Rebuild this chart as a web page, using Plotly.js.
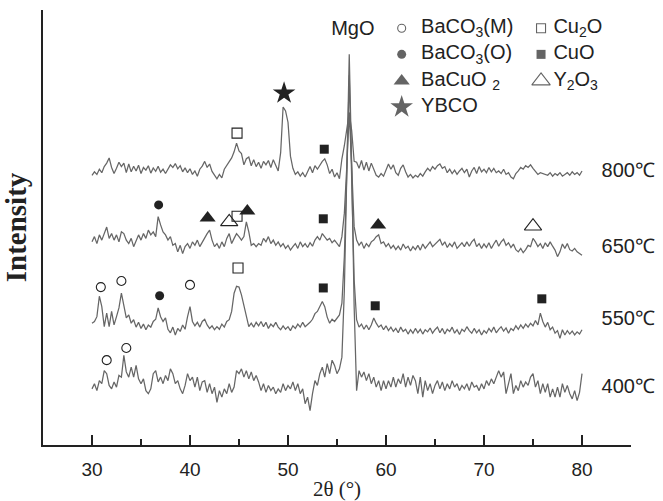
<!DOCTYPE html>
<html><head><meta charset="utf-8">
<script src="https://cdn.plot.ly/plotly-3.0.1.min.js"></script>
<style>html,body{margin:0;padding:0;background:#fff}#chart{width:663px;height:501px}</style>
</head><body><div id="chart"></div>
<script>
// ---- scan definition (2θ from 30° to 80°, 0.25° step) ----
const twoThetaStart = 30;
const twoThetaStep = 0.25;

// ---- sample labels and vertical stacking offsets ----
const samples = ['800℃', '650℃', '550℃', '400℃'];
const offsets = [63.2, 47.1, 28.0, 13.3];

// ---- intensities (arbitrary units), one value per 0.25° ----
const i800 = [
 -1.2,-0.4,-1.0,0.2,-0.6,0.8,1.6,2.8,0.6,-0.8,0.4,1.8,0.8,1.6,-0.6,1.4,-0.4,0.9,-0.2,1.1,
 -0.8,0.6,0.0,1.0,-0.7,0.5,-0.3,0.9,-0.5,0.2,-0.8,0.4,1.2,0.6,1.5,0.3,1.0,-0.4,0.5,-0.6,
 0.3,-1.0,-0.2,-1.4,0.2,0.9,2.0,0.6,1.4,-0.3,-1.2,-2.0,-1.0,-1.8,0.2,1.0,1.8,2.8,4.2,6.2,
 4.4,3.8,1.2,2.6,3.0,1.0,2.4,0.8,1.8,0.4,2.0,1.2,2.2,0.6,2.4,1.0,-0.2,4.0,14.5,13.6,
 11.0,3.2,0.4,-1.0,-0.4,-1.4,-0.6,-1.6,-0.2,0.8,-0.6,1.0,0.2,1.2,2.0,2.6,1.2,-0.8,0.2,-1.6,
 -0.6,-2.0,2.6,5.6,9.0,13.2,9.0,2.0,1.8,0.4,2.2,0.0,1.8,-0.2,1.6,0.2,-1.2,-1.6,-0.8,-1.4,
 0.2,1.4,0.2,1.2,-0.6,-1.2,0.4,1.2,-0.4,-1.6,-1.0,-1.8,-1.2,-1.6,-0.8,-1.4,-0.4,0.4,-0.2,0.8,
 0.2,1.0,1.4,0.4,0.8,-0.6,0.2,-0.8,0.0,-1.0,-0.2,0.4,-0.6,0.2,-1.6,-0.2,0.6,-0.8,0.8,-0.4,
 0.2,-0.6,0.6,-0.4,0.4,-0.6,-0.2,-0.8,0.2,-1.0,-0.6,-1.6,-2.0,-0.8,-0.2,0.6,0.2,1.0,0.6,1.2,
 0.4,-0.4,-1.0,-0.6,-0.8,-1.0,-1.2,-0.6,-1.4,-0.8,-1.2,-0.6,-1.4,-1.0,-0.6,-1.2,-0.4,-1.0,-0.6,-1.2,
 -0.2
];
const i650 = [
 -0.4,0.8,-0.8,1.2,0.0,1.5,3.0,0.4,1.5,0.0,1.2,-0.4,1.9,1.5,0.0,-0.8,0.4,-1.5,0.0,1.2,
 0.0,1.5,0.4,2.3,1.2,1.9,0.8,5.4,3.5,1.9,1.2,0.0,0.8,-1.2,-0.8,-2.7,-1.2,-3.1,-1.5,-0.8,
 -1.9,-0.4,-1.2,0.0,-1.5,-0.4,0.4,1.5,2.3,0.0,-1.5,-0.8,-1.9,-0.4,-1.5,0.4,1.5,-0.8,0.4,1.5,
 0.8,0.0,0.8,4.2,1.9,-1.2,-0.8,-1.5,-0.8,-1.2,0.4,-0.4,0.8,-0.8,0.0,-1.2,-0.4,-1.5,-0.8,-1.9,
 -1.2,-2.3,-1.5,-0.8,-1.9,-0.4,-1.5,-0.8,-1.7,-0.6,-1.4,0.0,0.8,0.0,1.5,0.8,0.0,0.4,-0.6,0.0,
 -0.9,-1.5,0.8,6.2,17.0,29.3,17.0,3.1,0.0,-1.2,-0.4,-1.9,-0.8,-1.5,-0.4,0.0,0.8,1.2,-0.8,-0.4,
 -1.5,-0.8,-1.9,-1.2,-2.2,-1.4,-2.3,-0.9,-1.9,-1.4,-2.5,-1.5,-2.2,-1.2,-2.3,-0.9,-1.9,-1.2,-0.4,-1.5,
 -0.9,-0.4,0.2,-1.2,-0.4,-1.7,-0.8,-1.5,-0.4,-1.9,-1.2,-0.6,-1.5,-0.4,-1.4,-0.4,0.2,-1.5,-0.8,-1.9,
 -0.9,-1.7,-0.6,-1.9,-0.9,0.0,-1.4,-0.4,0.2,-1.2,-0.6,-1.7,-0.9,-2.2,-2.7,-1.9,-2.9,-2.2,-1.2,-1.5,
 0.4,-0.4,-1.5,-0.8,-1.9,-0.6,-1.5,-0.4,-1.4,-2.3,-3.8,-2.7,-0.9,-1.9,-0.8,-2.2,-2.5,-1.9,-2.7,-3.1,
 -3.5
];
const i550 = [
 0.0,0.4,1.5,6.2,3.8,-0.8,2.3,-0.8,2.7,-0.4,1.5,3.5,6.9,3.8,1.2,1.9,0.0,0.8,-0.9,0.2,
 -1.2,-0.2,-1.5,-0.4,-0.9,0.4,0.9,3.5,1.5,0.4,1.2,-1.4,-2.2,-0.9,-2.7,-1.2,-1.9,-0.4,-1.4,1.5,
 3.8,0.4,-0.6,0.2,-0.9,0.4,0.9,-0.4,-1.2,-0.6,-1.5,-0.8,-1.4,-0.2,-0.9,0.4,0.8,2.7,6.9,8.5,
 8.3,6.5,3.8,1.2,-0.8,0.0,-0.9,0.2,-0.6,0.4,-0.8,0.2,-1.2,-0.2,-0.8,0.2,-0.9,-1.5,-0.6,-1.4,
 -0.8,-1.7,-0.6,-1.2,-0.2,-0.9,0.2,-0.8,-0.4,0.2,0.9,2.2,2.7,3.8,5.0,3.8,1.4,0.0,0.9,0.4,
 1.2,1.9,4.6,15.4,34.6,57.0,33.0,10.0,0.8,-0.9,-0.2,-1.4,-0.4,-1.5,-0.4,1.2,0.0,-0.9,-0.4,-1.5,
 -0.6,-1.7,-0.9,-1.9,-1.2,-2.2,-0.9,-1.9,-1.4,-2.5,-1.5,-2.3,-1.2,-2.2,-1.4,-2.5,-1.5,-2.0,-1.1,-2.3,
 -1.5,-0.9,-2.2,-1.2,-2.5,-1.4,-1.9,-0.9,-2.3,-1.5,-2.6,-1.4,-1.9,-0.8,-1.7,-2.3,-1.2,-2.2,-1.5,-2.7,
 -1.7,-2.3,-1.2,-2.0,-0.9,-2.2,-1.4,-0.8,-1.8,-1.1,-2.3,-1.2,-1.7,-0.6,-1.4,-0.4,-1.2,-0.2,-0.9,0.0,
 -0.6,0.6,-0.4,2.3,0.4,-0.9,0.2,-1.5,-0.9,-2.3,-1.7,-3.5,-1.5,-2.7,-1.7,-2.5,-1.8,-2.7,-2.0,-2.5,
 -1.5
];
const i400 = [
 -0.4,0.8,-0.8,1.5,0.8,3.8,3.1,0.4,-0.4,1.2,0.0,2.7,2.3,7.3,3.5,2.3,4.6,2.3,5.0,1.9,
 0.8,1.9,-0.8,-1.5,-0.4,3.1,3.8,1.2,2.3,0.8,2.7,1.5,4.2,3.1,0.8,1.5,-0.4,-1.5,0.4,3.1,
 1.5,2.3,0.0,2.3,-0.8,1.2,1.5,-1.2,0.8,-1.5,0.0,-3.5,-0.8,-2.3,-0.4,-1.5,0.8,-1.2,0.0,3.8,
 3.1,4.2,2.3,3.8,1.9,3.5,1.5,2.7,1.2,-0.8,0.8,-1.2,0.4,-0.8,0.0,-1.5,-0.4,-1.2,0.8,-0.8,
 0.4,-0.4,1.2,-0.8,0.8,-1.5,-0.4,-3.8,-2.3,-5.4,-1.5,1.5,0.4,3.1,4.6,2.3,5.4,3.1,6.2,5.0,
 3.1,4.2,6.9,22.3,49.2,76.5,50.8,18.5,-0.8,3.8,2.3,3.5,1.5,3.1,0.8,2.3,0.0,1.5,-0.8,1.5,
 -0.4,1.5,0.0,2.3,0.0,1.9,0.8,3.1,0.0,2.3,0.4,2.7,1.5,-1.5,2.3,-2.3,1.5,-0.8,0.8,-1.5,
 0.4,1.5,-0.4,1.2,-0.8,0.8,-0.4,1.5,0.0,0.8,-0.8,0.4,-0.4,0.8,-0.8,1.2,0.0,0.4,-0.8,0.8,
 -0.4,1.5,0.4,1.9,0.8,2.3,3.8,2.3,3.5,-1.5,0.8,3.1,-1.5,0.4,-0.8,1.5,0.0,1.2,0.4,2.3,
 3.1,0.0,1.5,-1.5,0.8,-1.2,0.8,-2.3,-0.4,-2.3,0.0,-2.3,0.8,-1.2,0.4,-1.5,-2.7,-0.8,-3.1,-1.2,
 3.1
];

// ---- phase identification marks (2θ position, plotted height) ----
const bacoM_x = [30.9, 33.0, 40.0, 31.5, 33.5];
const bacoM_y = [36.3, 37.7, 36.8, 19.5, 22.3];
const bacoO_x = [36.8, 36.9];
const bacoO_y = [55.2, 34.3];
const bacuo2_x = [41.8, 45.85, 59.2];
const bacuo2_y = [52.2, 53.8, 50.6];
const ybco_x = [49.6];
const ybco_y = [80.9];
const cu2o_x = [44.8, 44.8, 44.9];
const cu2o_y = [71.7, 52.6, 40.7];
const cuo_x = [53.7, 53.6, 53.6, 58.9, 75.9];
const cuo_y = [68.0, 52.0, 36.1, 32.0, 33.6];
const y2o3_x = [44.0, 75.0];
const y2o3_y = [51.3, 50.3];

const phaseNames = ['BaCO<sub>3</sub>(M)', 'BaCO<sub>3</sub>(O)', 'BaCuO <sub>2</sub>', 'YBCO',
                    'Cu<sub>2</sub>O', 'CuO', 'Y<sub>2</sub>O<sub>3</sub>'];
const peakLabel = 'MgO';

// ---------------------------------------------------------------
const INK = '#222';
const LINE = '#666';
const sansFont = 'Liberation Sans, Arial, sans-serif';
const serifFont = 'Liberation Serif, Times New Roman, serif';

const series = [i800, i650, i550, i400];
const traces = series.map((s, k) => ({
  type: 'scatter', mode: 'lines',
  x: s.map((_, i) => twoThetaStart + i * twoThetaStep),
  y: s.map(v => v + offsets[k]),
  line: { color: LINE, width: 1.25 },
  hoverinfo: 'skip', showlegend: false, name: samples[k]
}));

const phaseStyles = [
  { x: bacoM_x, y: bacoM_y, symbol: 'circle-open', size: 9, lw: 1.1 },
  { x: bacoO_x, y: bacoO_y, symbol: 'circle', size: 9, lw: 0 },
  { x: bacuo2_x, y: bacuo2_y, symbol: 'triangle-up', size: 14, lw: 0 },
  { x: ybco_x, y: ybco_y, symbol: 'star', size: 17, lw: 0 },
  { x: cu2o_x, y: cu2o_y, symbol: 'square-open', size: 10, lw: 1.1 },
  { x: cuo_x, y: cuo_y, symbol: 'square', size: 9, lw: 0 },
  { x: y2o3_x, y: y2o3_y, symbol: 'triangle-up-open', size: 15, lw: 1.1 }
];
phaseStyles.forEach((p, k) => {
  traces.push({
    type: 'scatter', mode: 'markers', x: p.x, y: p.y, name: phaseNames[k],
    marker: { symbol: p.symbol, size: p.size, color: INK, line: { color: INK, width: p.lw } },
    hoverinfo: 'skip', showlegend: false, cliponaxis: false
  });
});

// ---- key (two columns, top right), drawn on an overlay axis in plot-fraction units ----
const keyColX = [0.610, 0.847];
const keyRowY = [0.958, 0.898, 0.837, 0.777];
const keySlots = [[0,0],[0,1],[0,2],[0,3],[1,0],[1,1],[1,2]];
const keySizes = [8, 9, 14, 17, 9, 9, 16];
traces.push({
  type: 'scatter', mode: 'markers', xaxis: 'x2', yaxis: 'y2',
  x: keySlots.map(s => keyColX[s[0]]),
  y: keySlots.map(s => keyRowY[s[1]]),
  marker: {
    symbol: phaseStyles.map(p => p.symbol), size: keySizes, color: INK,
    line: { color: INK, width: phaseStyles.map(p => p.lw) }
  },
  hoverinfo: 'skip', showlegend: false, cliponaxis: false
});

// key texts
const keyTextX = [0.643, 0.868];
traces.push({
  type: 'scatter', mode: 'text', xaxis: 'x2', yaxis: 'y2',
  x: keySlots.map(s => keyTextX[s[0]]),
  y: keySlots.map(s => keyRowY[s[1]]),
  text: phaseNames, textposition: 'middle right',
  textfont: { family: sansFont, size: 20, color: INK },
  hoverinfo: 'skip', showlegend: false, cliponaxis: false
});
// peak label and sample labels
const sampleLabelY = [0.628, 0.453, 0.287, 0.131];
traces.push({
  type: 'scatter', mode: 'text', xaxis: 'x2', yaxis: 'y2',
  x: [0.527], y: [0.954], text: [peakLabel], textposition: 'middle center',
  textfont: { family: sansFont, size: 20, color: INK },
  hoverinfo: 'skip', showlegend: false, cliponaxis: false
});
traces.push({
  type: 'scatter', mode: 'text', xaxis: 'x2', yaxis: 'y2',
  x: samples.map(() => 0.950), y: sampleLabelY, text: samples, textposition: 'middle right',
  textfont: { family: sansFont, size: 20, color: INK },
  hoverinfo: 'skip', showlegend: false, cliponaxis: false
});

const layout = {
  width: 663, height: 501,
  margin: { l: 43, r: 32, t: 10, b: 56 },
  paper_bgcolor: '#fff', plot_bgcolor: '#fff',
  showlegend: false,
  xaxis: {
    range: [25, 85], showgrid: false, zeroline: false,
    showline: true, linecolor: INK, linewidth: 1.6,
    ticks: 'inside', ticklen: 10, tickwidth: 1.5, tickcolor: INK,
    tick0: 30, dtick: 10,
    minor: { ticks: 'inside', dtick: 5, tick0: 30, ticklen: 6, tickwidth: 1.5, tickcolor: INK, showgrid: false },
    tickfont: { family: sansFont, size: 19, color: INK },
    ticklabelstandoff: 6,
    title: { text: '2θ (°)', font: { family: serifFont, size: 21, color: INK }, standoff: 4 },
    fixedrange: true
  },
  yaxis: {
    range: [0, 100], showgrid: false, zeroline: false,
    showline: true, linecolor: INK, linewidth: 1.6,
    ticks: '', showticklabels: false,
    title: { text: '<b>Intensity</b>', font: { family: serifFont, size: 29, color: INK }, standoff: 9 },
    fixedrange: true
  },
  xaxis2: { overlaying: 'x', range: [0, 1], visible: false, fixedrange: true },
  yaxis2: { overlaying: 'y', range: [0, 1], visible: false, fixedrange: true },
  hovermode: false
};

Plotly.newPlot('chart', traces, layout, { displayModeBar: false });
</script>
</body></html>
